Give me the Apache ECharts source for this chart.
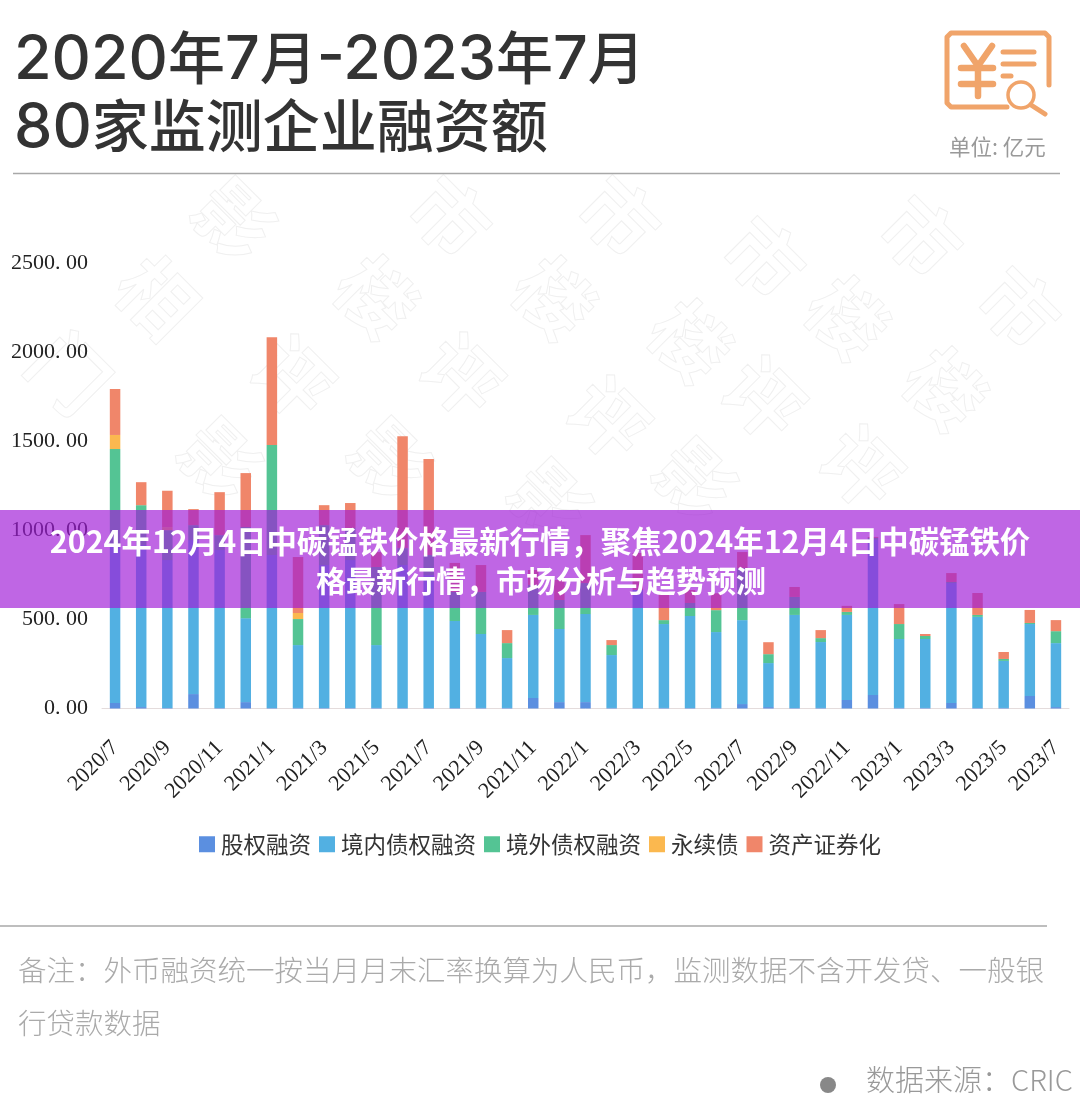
<!DOCTYPE html>
<html>
<head>
<meta charset="utf-8">
<script src="https://cdn.jsdelivr.net/npm/echarts@6/dist/echarts.min.js"></script>
<style>
html,body{margin:0;padding:0;background:#fff;}
#main{width:1080px;height:1118px;}
</style>
</head>
<body>
<div id="main"></div>
<script>
// months 2020/7 .. 2023/7
let months=["2020/7","2020/8","2020/9","2020/10","2020/11","2020/12","2021/1","2021/2","2021/3","2021/4","2021/5","2021/6","2021/7","2021/8","2021/9","2021/10","2021/11","2021/12","2022/1","2022/2","2022/3","2022/4","2022/5","2022/6","2022/7","2022/8","2022/9","2022/10","2022/11","2022/12","2023/1","2023/2","2023/3","2023/4","2023/5","2023/6","2023/7"]
let seriesNames=["股权融资","境内债权融资","境外债权融资","永续债","资产证券化"]
let equity=[31,8,3,81,3,36,3,3,3,3,3,3,3,3,3,3,59,36,36,3,3,3,3,3,25,8,3,3,48,76,3,3,31,3,3,70,8]
let domestic=[886,909,830,864,886,471,858,353,802,830,353,802,746,488,415,280,466,410,494,297,662,471,516,426,471,247,522,370,477,870,387,387,673,511,264,404,359]
let overseas=[539,224,168,84,84,511,617,146,224,180,438,95,112,163,236,84,168,163,174,56,0,22,73,123,292,50,101,22,17,11,84,17,6,11,11,6,67]
let perpetual=[79,0,17,0,0,0,0,34,0,0,0,0,0,0,0,0,0,0,0,0,0,0,0,0,0,0,0,0,0,0,0,0,0,0,0,0,0]
let abs=[258,129,204,90,241,303,606,314,112,140,84,628,539,163,151,73,84,112,269,28,208,151,73,95,90,67,56,45,34,6,112,11,50,123,39,73,62]
let colors=["#5b8fe0","#52b0e2","#54c494","#fbb84f","#f0866a"]

let titleFont='"Noto Sans CJK SC","Noto Sans",sans-serif'
let serifFont='"Liberation Serif","Noto Sans CJK SC",serif'

function bar(name,data,color){
  return {name:name,type:"bar",stack:"Total",data:data,barWidth:10.5,itemStyle:{color:color}}
}

// faint outlined watermark characters
let marks=[["影",234,220],["市",450,217],["市",619,217],["市",764,258],["市",921,237],["市",1019,308],
  ["相",157,297],["楼",376,297],["楼",554,298],["楼",690,341],["楼",847,318],["楼",945,389],
  ["门",69,373],["评",293,377],["评",462,375],["评",609,418],["评",764,398],["评",862,467],
  ["影",220,460],["影",390,460],["影",550,501],["影",695,480]]
let markEls=marks.map(m=>({
  type:"text",z:0,x:m[1],y:m[2],rotation:-Math.PI/4,silent:true,
  style:{text:m[0],font:'700 76px '+titleFont,fill:"none",stroke:"#f0f0f0",lineWidth:1,align:"center",verticalAlign:"middle"}
}))

function iconLine(points,width){
  return {type:"polyline",z:3,shape:{points:points},style:{fill:"none",stroke:"#f0a46a",lineWidth:width||5,lineCap:"round",lineJoin:"round"}}
}

// title mixes wide digits with CJK glyphs
let titleRich={
  d:{font:'500 61px Inter,sans-serif',fill:"#333",padding:[8,0,0,0]},
  c:{font:'500 57px '+titleFont,fill:"#333"},
}

let myChart=echarts.init(document.getElementById("main"))
myChart.setOption({
  animation:false,
  backgroundColor:"#fff",
  grid:{left:102,right:11,top:263,height:445.5,containLabel:false},
  legend:{
    data:seriesNames,top:828,left:"center",itemWidth:16,itemHeight:16,itemGap:8,icon:"rect",
    textStyle:{fontSize:22.5,color:"#333",fontFamily:titleFont,padding:[0,0,0,1]}
  },
  xAxis:{
    type:"category",data:months,
    axisLine:{lineStyle:{color:"#e4dcdc"}},
    axisTick:{interval:1,length:8,lineStyle:{color:"#e4dcdc"}},
    axisLabel:{interval:1,rotate:45,fontSize:22,color:"#222",fontFamily:serifFont,margin:36}
  },
  yAxis:{
    type:"value",min:0,max:2500,interval:500,
    axisLine:{show:false},axisTick:{show:false},splitLine:{show:false},
    axisLabel:{fontSize:22,color:"#222",fontFamily:serifFont,margin:14,padding:[3,0,0,0],
      formatter:v=>v.toFixed(2).replace(".",". ")}
  },
  series:[
    bar(seriesNames[0],equity,colors[0]),
    bar(seriesNames[1],domestic,colors[1]),
    bar(seriesNames[2],overseas,colors[2]),
    bar(seriesNames[3],perpetual,colors[3]),
    bar(seriesNames[4],abs,colors[4]),
  ],
  graphic:{elements:markEls.concat([
    {type:"text",x:14,y:57,style:{text:"{d|2020}{c|年}{d|7}{c|月}{d|-2023}{c|年}{d|7}{c|月}",rich:titleRich,verticalAlign:"middle"}},
    {type:"text",x:14,y:125,style:{text:"{d|80}{c|家监测企业融资额}",rich:titleRich,verticalAlign:"middle"}},
    {type:"text",x:949,y:147,style:{text:"单位: 亿元",font:'400 21.5px '+titleFont,fill:"#999",verticalAlign:"middle"}},
    {type:"line",shape:{x1:13,y1:173.5,x2:1060,y2:173.5},style:{stroke:"#a8a8a8",lineWidth:1.5}},
    {type:"line",shape:{x1:0,y1:926,x2:1047,y2:926},style:{stroke:"#a8a8a8",lineWidth:1.5}},
    iconLine([[1049,85],[1049,37],[1045,33],[951,33],[947,37],[947,103],[951,107],[1007,107]]),
    iconLine([[964,46],[978,66],[992,46]],6.5),
    iconLine([[978,66],[978,96]],6.5),
    iconLine([[961,68],[993,68]],6.5),
    iconLine([[961,84],[993,84]],6.5),
    iconLine([[1003,52],[1034,52]]),
    iconLine([[1003,64],[1034,64]]),
    iconLine([[1003,76],[1011,76]]),
    iconLine([[1031,105],[1045,114]]),
    {type:"circle",z:3,shape:{cx:1021,cy:95,r:13},style:{fill:"none",stroke:"#f0a46a",lineWidth:3.5}},
    {type:"text",x:18,y:970,style:{text:"备注\uFF1A外币融资统一按当月月末汇率换算为人民币\uFF0C监测数据不含开发贷、一般银",font:'300 28.5px '+titleFont,fill:"#aaa",verticalAlign:"middle"}},
    {type:"text",x:18,y:1023,style:{text:"行贷款数据",font:'300 28.5px '+titleFont,fill:"#aaa",verticalAlign:"middle"}},
    {type:"circle",shape:{cx:828,cy:1085,r:8},style:{fill:"#888"}},
    {type:"text",x:866,y:1080,style:{text:"数据来源\uFF1ACRIC",font:'300 29px '+titleFont,fill:"#999",verticalAlign:"middle"}},
    {type:"rect",z:10,shape:{x:0,y:510,width:1080,height:98},style:{fill:"rgba(160,27,215,0.67)"}},
    {type:"text",z:11,x:540,y:541,style:{text:"2024年12月4日中碳锰铁价格最新行情\uFF0C聚焦2024年12月4日中碳锰铁价",font:'700 30.4px '+titleFont,fill:"#fff",align:"center",verticalAlign:"middle"}},
    {type:"text",z:11,x:541,y:581,style:{text:"格最新行情\uFF0C市场分析与趋势预测",font:'700 30px '+titleFont,fill:"#fff",align:"center",verticalAlign:"middle"}},
  ])}
})
</script>
</body>
</html>
